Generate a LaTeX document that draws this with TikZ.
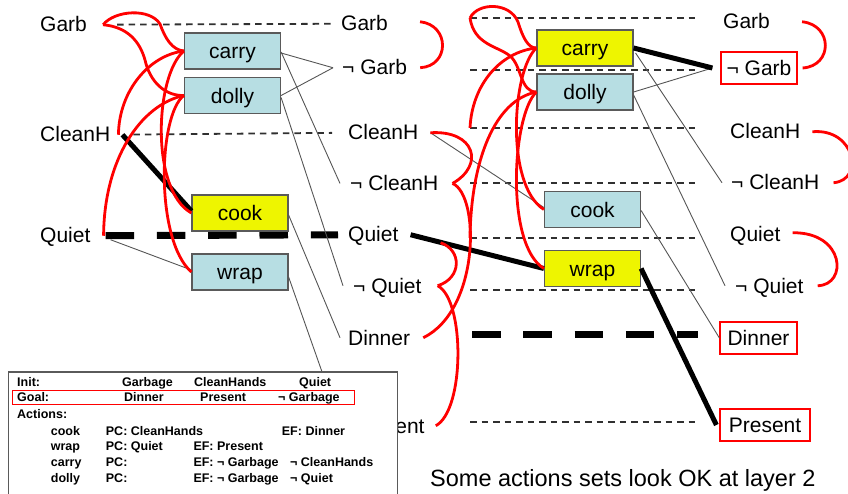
\documentclass[tikz,border=0pt]{standalone}
\usepackage{fontspec}
\setmainfont{Liberation Sans}
\usetikzlibrary{calc}
\definecolor{boxblue}{HTML}{B7DEE3}
\definecolor{boxyellow}{HTML}{EEF500}
\definecolor{boxedge}{HTML}{5A5A5A}
\definecolor{linkgray}{HTML}{555555}
\definecolor{dashgray}{HTML}{303030}
\definecolor{mutexred}{HTML}{FF0000}
\begin{document}
\begin{tikzpicture}[x=1pt, y=-1pt,
  lbl/.style={anchor=base west, inner sep=0pt, text height=14.5pt, text depth=0pt,
    font=\fontsize{21}{25}\selectfont},
  goalbox/.style={draw=mutexred, line width=1.2pt, inner sep=0pt, text height=14.5pt,
    text depth=0pt, font=\fontsize{21}{25}\selectfont},
  actbox/.style={draw=boxedge, line width=1.2pt, inner sep=0pt, minimum width=96pt,
    minimum height=36pt, text height=15.4pt, text depth=0pt, font=\fontsize{21}{25}\selectfont},
  actblue/.style={actbox, fill=boxblue},
  actyellow/.style={actbox, fill=boxyellow},
  noop/.style={draw=dashgray, line width=1.8pt, dash pattern=on 6.5pt off 5pt},
  noopbold/.style={draw=black, line width=7pt, dash pattern=on 28.5pt off 22.8pt},
  thinlink/.style={draw=linkgray, line width=0.9pt},
  boldlink/.style={draw=black, line width=5pt},
  mutexarc/.style={draw=mutexred, line width=2.8pt},
  tbl/.style={anchor=base west, inner sep=0pt, font=\fontsize{12.5}{14}\selectfont\bfseries},
]
\useasboundingbox (0,0) rectangle (848,494);

% ---------- proposition layer 0 ----------
\node[lbl] (g0) at (40,32)  {Garb};
\node[lbl] (c0) at (40,142) {CleanH};
\node[lbl] (q0) at (40,243) {Quiet};

% ---------- proposition layer 1 ----------
\node[lbl] (g1)  at (341,31)    {Garb};
\node[lbl] (ng1) at (342,75)    {¬ Garb};
\node[lbl] (c1)  at (348,140)   {CleanH};
\node[lbl] (nc1) at (350,190.7) {¬ CleanH};
\node[lbl] (q1)  at (348,242)   {Quiet};
\node[lbl] (nq1) at (353,293)   {¬ Quiet};
\node[lbl] (d1)  at (348,345)   {Dinner};
\node[lbl] (p1)  at (352,433)   {Present};

% ---------- proposition layer 2 ----------
\node[lbl] (g2)  at (723,29)  {Garb};
\node[goalbox, minimum width=76pt, minimum height=32pt] (ng2) at (759,68) {¬ Garb};
\node[lbl] (c2)  at (730,139) {CleanH};
\node[lbl] (nc2) at (731,190) {¬ CleanH};
\node[lbl] (q2)  at (730,242) {Quiet};
\node[lbl] (nq2) at (735,293) {¬ Quiet};
\node[goalbox, minimum width=77pt, minimum height=32pt] (d2) at (758.5,338) {Dinner};
\node[goalbox, minimum width=90pt, minimum height=32pt] (p2) at (765,425) {Present};

% ---------- no-op persistence, layer 0 -> 1 ----------
\draw[noop, shorten <=30pt, shorten >=9pt] (g0.east) -- (g1.west);
\draw[noop, shorten <=23pt, shorten >=16pt] (c0.east) -- (c1.west);
\draw[noopbold, shorten <=15pt, shorten >=10pt] (q0.east) -- (q1.west);

% ---------- no-op persistence, layer 1 -> 2 ----------
\coordinate (pgA)  at (470,18);  \coordinate (pgB)  at (698,18);
\coordinate (pngA) at (470,70);  \coordinate (pngB) at (698,70);
\coordinate (pcA)  at (470,128); \coordinate (pcB)  at (698,128);
\coordinate (pncA) at (470,183); \coordinate (pncB) at (698,183);
\coordinate (pqA)  at (470,238); \coordinate (pqB)  at (698,238);
\coordinate (pnqA) at (470,290); \coordinate (pnqB) at (698,290);
\coordinate (pdA)  at (472,334); \coordinate (pdB)  at (698,334);
\coordinate (ppA)  at (470,422); \coordinate (ppB)  at (698,422);
\draw[noop] (pgA) -- (pgB);
\draw[noop] (pngA) -- (pngB);
\draw[noop] (pcA) -- (pcB);
\draw[noop] (pncA) -- (pncB);
\draw[noop] (pqA) -- (pqB);
\draw[noop] (pnqA) -- (pnqB);
\draw[noopbold] (pdA) -- (pdB);
\draw[noop] (ppA) -- (ppB);

% ---------- action layer 1 ----------
\node[actblue]   (a1carry) at (232.5,51)  {carry};
\node[actblue]   (a1dolly) at (232.5,95.5) {dolly};
\node[actyellow] (a1cook)  at (240,213)   {cook};
\node[actblue]   (a1wrap)  at (240,272)   {wrap};

% ---------- action layer 2 ----------
\node[actyellow] (a2carry) at (585,48)    {carry};
\node[actblue]   (a2dolly) at (585,92)    {dolly};
\node[actblue]   (a2cook)  at (592.5,209.5) {cook};
\node[actyellow] (a2wrap)  at (592.5,268.5) {wrap};

% ---------- preconditions and effects, layer 0 -> 1 -> 1 ----------
\draw[thinlink] ($(a1carry.east)+(0,2)$) -- ($(ng1.west)+(-9,0)$);
\draw[thinlink] (a1dolly.east) -- ($(ng1.west)+(-9,0)$);
\draw[thinlink] ($(a1carry.east)+(0,1)$) -- ($(nc1.west)+(-10,0)$);
\draw[thinlink] ($(a1dolly.east)+(0,2)$) -- ($(nq1.west)+(-10,0)$);
\draw[thinlink] ($(a1cook.east)+(0,2)$) -- ($(d1.west)+(-8,0)$);
\draw[thinlink] ($(a1wrap.east)+(0,5)$) -- ($(p1.west)+(-11,0)$);
\draw[thinlink] ($(q0.east)+(20,4)$) -- ($(a1wrap.west)+(0,-2)$);
\draw[boldlink] ($(c0.east)+(12,0)$) -- ($(a1cook.west)+(0,-2)$);

% ---------- preconditions and effects, layer 1 -> 2 -> 2 ----------
\draw[thinlink] ($(c1.east)+(12,0)$) -- ($(a2cook.west)+(0,-2)$);
\draw[thinlink] (a2dolly.east) -- ($(ng2.west)+(-8,0)$);
\draw[thinlink] ($(a2carry.east)+(2,5)$) -- ($(nc2.west)+(-9,0)$);
\draw[thinlink] ($(a2dolly.east)+(0,3)$) -- ($(nq2.west)+(-10,0)$);
\draw[thinlink] ($(a2cook.east)+(0,1)$) -- (d2.west);
\draw[boldlink] (a2carry.east) -- ($(ng2.west)+(-8,0)$);
\draw[boldlink] ($(q1.east)+(12,0)$) -- (a2wrap.west);
\draw[boldlink] (a2wrap.east) -- ($(p2.west)+(-3,0)$);

% ---------- mutex arcs, action layer 1 ----------
\draw[mutexarc] ($(g0.east)+(16,0)$) .. controls (115,10) and (150,8) .. (160,24)
  .. controls (165,38) and (172,50) .. (a1carry.west);
\draw[mutexarc] ($(g0.east)+(16,0)$) .. controls (128,27) and (140,42) .. (145,60)
  .. controls (150,82) and (165,96) .. (a1dolly.west);
\draw[mutexarc] (a1carry.west) .. controls (150,55) and (119,90) .. ($(c0.east)+(8,0)$);
\draw[mutexarc] (a1dolly.west) .. controls (140,105) and (104,160) .. ($(q0.east)+(13,0)$);
\draw[mutexarc] (a1carry.west) .. controls (155,75) and (150,190) .. (a1cook.west);
\draw[mutexarc] (a1dolly.west) .. controls (158,115) and (155,240) .. (a1wrap.west);

% ---------- mutex arcs, proposition layer 1 ----------
\draw[mutexarc] ($(g1.east)+(32,-2)$) .. controls (450,25) and (450,66) .. ($(ng1.east)+(13,0)$);
\draw[mutexarc] ($(c1.east)+(12,0)$) .. controls (475,130) and (485,165) .. ($(nc1.east)+(14,0)$);
\draw[mutexarc] ($(nc1.east)+(14,0)$) .. controls (480,195) and (480,310) .. ($(d1.east)+(13,0)$);
\draw[mutexarc] ($(q1.east)+(42,8)$) .. controls (462,250) and (462,278) .. ($(nq1.east)+(16,0)$);
\draw[mutexarc] ($(nq1.east)+(16,0)$) .. controls (465,300) and (465,410) .. ($(p1.east)+(11,0)$);

% ---------- mutex arcs, action layer 2 ----------
\draw[mutexarc] (pgA) .. controls (478,2) and (510,2) .. (518,22)
  .. controls (523,38) and (528,48) .. (a2carry.west);
\draw[mutexarc] (pgA) .. controls (474,45) and (498,46) .. (510,56)
  .. controls (522,66) and (520,92) .. (a2dolly.west);
\draw[mutexarc] (a2carry.west) .. controls (500,52) and (472,85) .. (pcA);
\draw[mutexarc] (a2dolly.west) .. controls (495,100) and (471,160) .. (pqA);
\draw[mutexarc] (a2carry.west) .. controls (512,70) and (505,185) .. (a2cook.west);
\draw[mutexarc] (a2dolly.west) .. controls (512,115) and (505,245) .. (a2wrap.west);

% ---------- mutex arcs, proposition layer 2 ----------
\draw[mutexarc] ($(g2.east)+(32,0)$) .. controls (833,25) and (833,66) .. ($(ng2.east)+(5,0)$);
\draw[mutexarc] ($(c2.east)+(12,0)$) .. controls (855,128) and (865,180) .. ($(nc2.east)+(14,0)$);
\draw[mutexarc] ($(q2.east)+(12,-2)$) .. controls (845,232) and (848,285) .. ($(nq2.east)+(14,0)$);

% ---------- problem description ----------
\draw[draw=boxedge, line width=1.3pt, fill=white] (8.5,372) rectangle (397.5,500);
\draw[mutexred, line width=1pt] (12.7,390.7) rectangle (354,404.5);
\node[tbl] (tInit)   at (17,386.7)  {Init:};
\node[tbl] (tIa)     at (122,386.7) {Garbage};
\node[tbl] (tIb)     at (194,386.7) {CleanHands};
\node[tbl] (tIc)     at (299,386.7) {Quiet};
\node[tbl] (tGoal)   at (17,401.7)  {Goal:};
\node[tbl] (tGa)     at (124,401.7) {Dinner};
\node[tbl] (tGb)     at (200,401.7) {Present};
\node[tbl] (tGc)     at (278,401.7) {¬ Garbage};
\node[tbl] (tAct)    at (17,418.3)  {Actions:};
\node[tbl] (tCook)   at (50.7,435)  {cook};
\node[tbl] (tCookP)  at (105.7,435) {PC: CleanHands};
\node[tbl] (tCookE)  at (281.7,435) {EF: Dinner};
\node[tbl] (tWrap)   at (50.7,450.7)  {wrap};
\node[tbl] (tWrapP)  at (105.7,450.7) {PC: Quiet};
\node[tbl] (tWrapE)  at (193.3,450.7) {EF: Present};
\node[tbl] (tCarry)  at (50.7,466.7)  {carry};
\node[tbl] (tCarryP) at (105.7,466.7) {PC:};
\node[tbl] (tCarryE) at (193.3,466.7) {EF: ¬ Garbage};
\node[tbl] (tCarryF) at (290,466.7)   {¬ CleanHands};
\node[tbl] (tDolly)  at (50.7,482.7)  {dolly};
\node[tbl] (tDollyP) at (105.7,482.7) {PC:};
\node[tbl] (tDollyE) at (193.3,482.7) {EF: ¬ Garbage};
\node[tbl] (tDollyF) at (290,482.7)   {¬ Quiet};

% ---------- caption ----------
\node[anchor=base west, inner sep=0pt, font=\fontsize{23.5}{28}\selectfont] (caption)
  at (430,486.7) {Some actions sets look OK at layer 2};
\end{tikzpicture}
\end{document}
